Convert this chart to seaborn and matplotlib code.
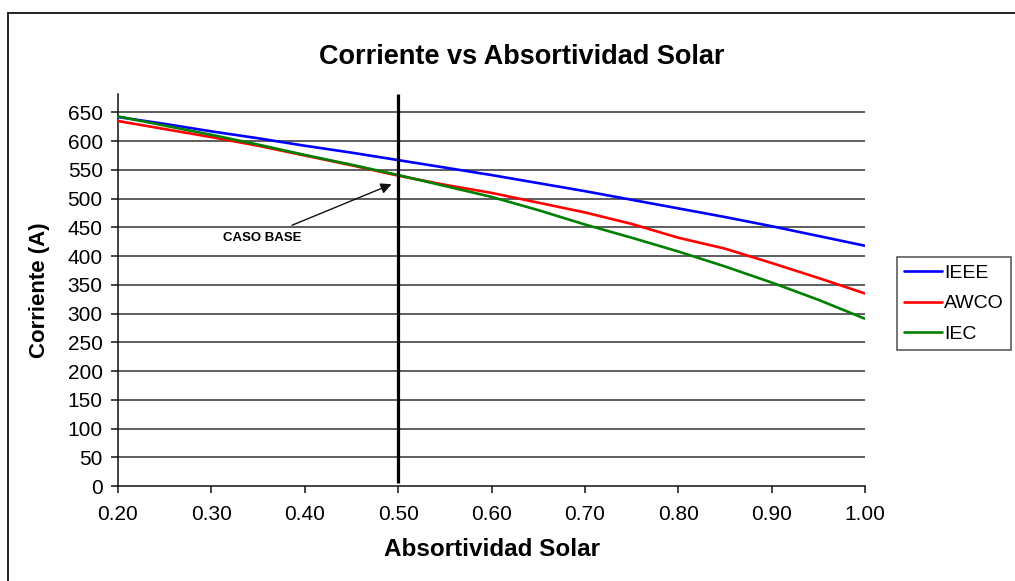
import matplotlib
matplotlib.use("Agg")
import matplotlib.pyplot as plt
from matplotlib.lines import Line2D
import numpy as np
import pandas as pd
import seaborn as sns

# Solar absorptivity values and ampacity (A) from each rating method
absortividad = [0.20, 0.25, 0.30, 0.35, 0.40, 0.45, 0.50, 0.55, 0.60,
                0.65, 0.70, 0.75, 0.80, 0.85, 0.90, 0.95, 1.00]
ieee = [642, 630, 617, 605, 592, 580, 567, 554, 541,
        527, 513, 498, 483, 468, 452, 435, 418]
awco = [635, 621, 607, 592, 575, 558, 540, 524, 510,
        493, 476, 456, 432, 413, 388, 362, 335]
iec = [643, 627, 611, 594, 576, 559, 541, 522, 503,
       480, 455, 432, 408, 382, 354, 324, 291]

series_names = ["IEEE", "AWCO", "IEC"]
series_colors = ["#0000FF", "#FF0000", "#008000"]

x_ticks = [0.20, 0.30, 0.40, 0.50, 0.60, 0.70, 0.80, 0.90, 1.00]
y_ticks = list(range(0, 651, 50))
caso_base = 0.50

df = pd.DataFrame({
    "Absortividad": absortividad * 3,
    "Corriente": ieee + awco + iec,
    "Metodo": [n for n in series_names for _ in absortividad],
})

sns.set_style("white")
plt.rcParams["font.family"] = ["Liberation Sans", "DejaVu Sans"]
plt.rcParams["text.color"] = "black"
plt.rcParams["axes.labelcolor"] = "black"

fig = plt.figure(figsize=(10.15, 5.81), dpi=100)
ax = fig.add_axes([118 / 1015, 1 - 486 / 581, 747 / 1015, 392 / 581])

sns.lineplot(data=df, x="Absortividad", y="Corriente", hue="Metodo",
             hue_order=series_names,
             palette=dict(zip(series_names, series_colors)),
             linewidth=1.9, ax=ax, legend=False, zorder=3)

ax.set_xlim(0.20, 1.00)
ax.set_ylim(0, 682)
ax.set_xticks(x_ticks)
ax.set_xticklabels([f"{v:.2f}" for v in x_ticks])
ax.set_yticks(y_ticks)
ax.set_yticklabels([str(v) for v in y_ticks])

# horizontal gridlines only
for v in y_ticks[1:]:
    ax.axhline(v, color="#333333", lw=1.1, zorder=1)

ax.spines["top"].set_visible(False)
ax.spines["right"].set_visible(False)
for s in ("left", "bottom"):
    ax.spines[s].set_color("#111111")
    ax.spines[s].set_linewidth(1.1)
ax.tick_params(axis="both", direction="out", length=5, width=1.1,
               color="#111111", labelsize=15, labelcolor="black")
ax.tick_params(axis="x", pad=9)
ax.tick_params(axis="y", pad=6)
ax.tick_params(left=True, bottom=True)

# base case marker
ax.vlines(caso_base, 5, 682, color="black", lw=2.3, zorder=4)
ax.annotate("CASO BASE", xy=(0.493, 525), xytext=(0.354, 432),
            fontsize=9.5, fontweight="bold", ha="center", va="center",
            arrowprops=dict(arrowstyle="-|>", color="#111111", lw=1.0,
                            mutation_scale=16, shrinkA=6, shrinkB=0))

ax.set_xlabel("Absortividad Solar", fontsize=17.5, fontweight="bold", va="center")
ax.xaxis.set_label_coords(0.5, (486 - 549) / 392)
ax.set_ylabel("Corriente (A)", fontsize=16, fontweight="bold", va="center")
ax.yaxis.set_label_coords((40 - 118) / 747, 0.5)

fig.text(522 / 1015, 1 - 57 / 581, "Corriente vs Absortividad Solar",
         fontsize=19.5, fontweight="bold", ha="center", va="center")

handles = [Line2D([], [], color=c, lw=1.9) for c in series_colors]
leg = fig.legend(handles, series_names, loc="upper left",
                 bbox_to_anchor=(897 / 1015, 1 - 257 / 581),
                 fontsize=14, frameon=True, fancybox=False, shadow=False,
                 handlelength=1.95, handletextpad=0.12, labelspacing=0.68,
                 borderpad=0.36, borderaxespad=0)
leg.get_frame().set_edgecolor("#222222")
leg.get_frame().set_linewidth(1.1)

# chart-area border
fig.add_artist(Line2D([8 / 1015, 8 / 1015], [0, 1 - 13 / 581],
                      color="#111111", lw=1.3, transform=fig.transFigure))
fig.add_artist(Line2D([8 / 1015, 1], [1 - 13 / 581, 1 - 13 / 581],
                      color="#111111", lw=1.3, transform=fig.transFigure))

fig.savefig("out.png", dpi=100)
